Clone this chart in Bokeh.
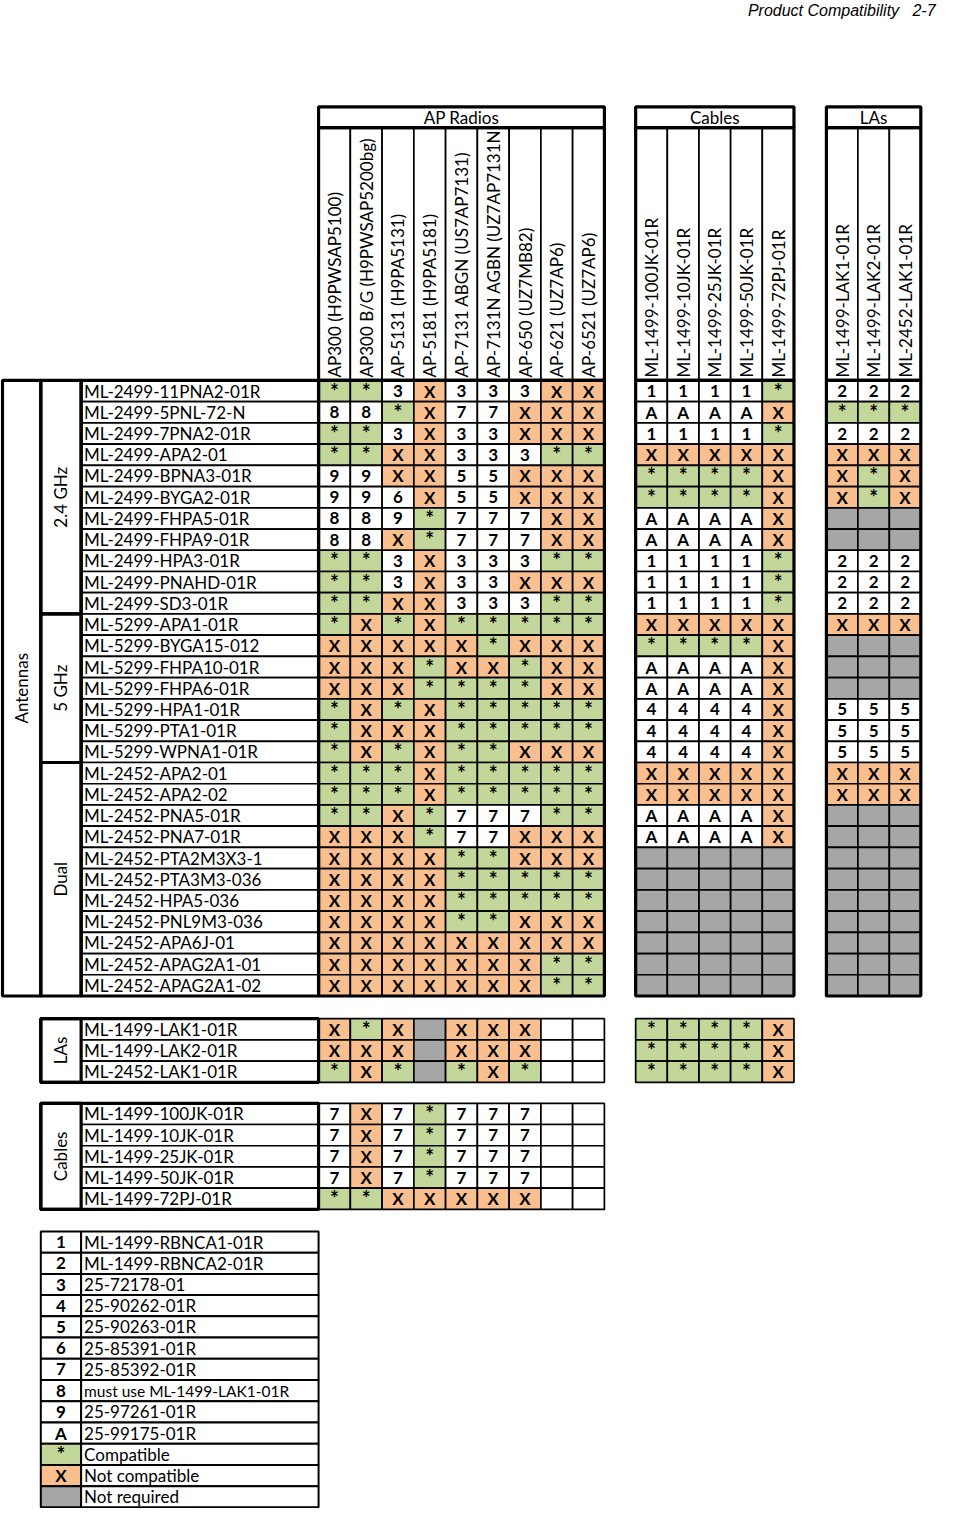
import math
from bokeh.plotting import figure
from bokeh.models import Range1d
from bokeh.core.properties import value
from bokeh.embed import file_html
from bokeh.resources import INLINE

# ---------------- data ----------------
ap_radio_cols = ["AP300 (H9PWSAP5100)", "AP300 B/G (H9PWSAP5200bg)", "AP-5131 (H9PA5131)",
                 "AP-5181 (H9PA5181)", "AP-7131 ABGN (US7AP7131)", "AP-7131N AGBN (UZ7AP7131N",
                 "AP-650 (UZ7MB82)", "AP-621 (UZ7AP6)", "AP-6521 (UZ7AP6)"]
cable_cols = ["ML-1499-100JK-01R", "ML-1499-10JK-01R", "ML-1499-25JK-01R",
              "ML-1499-50JK-01R", "ML-1499-72PJ-01R"]
la_cols = ["ML-1499-LAK1-01R", "ML-1499-LAK2-01R", "ML-2452-LAK1-01R"]

# codes: * compatible, X not compatible, - not required, . empty, others = footnote
band24_names = ["ML-2499-11PNA2-01R", "ML-2499-5PNL-72-N", "ML-2499-7PNA2-01R", "ML-2499-APA2-01",
                "ML-2499-BPNA3-01R", "ML-2499-BYGA2-01R", "ML-2499-FHPA5-01R", "ML-2499-FHPA9-01R",
                "ML-2499-HPA3-01R", "ML-2499-PNAHD-01R", "ML-2499-SD3-01R"]
band24_ap = ["* * 3 X 3 3 3 X X", "8 8 * X 7 7 X X X", "* * 3 X 3 3 X X X", "* * X X 3 3 3 * *",
             "9 9 X X 5 5 X X X", "9 9 6 X 5 5 X X X", "8 8 9 * 7 7 7 X X", "8 8 X * 7 7 7 X X",
             "* * 3 X 3 3 3 * *", "* * 3 X 3 3 X X X", "* * X X 3 3 3 * *"]
band24_cables = ["1 1 1 1 *", "A A A A X", "1 1 1 1 *", "X X X X X", "* * * * X", "* * * * X",
                 "A A A A X", "A A A A X", "1 1 1 1 *", "1 1 1 1 *", "1 1 1 1 *"]
band24_las = ["2 2 2", "* * *", "2 2 2", "X X X", "X * X", "X * X", "- - -", "- - -",
              "2 2 2", "2 2 2", "2 2 2"]

band5_names = ["ML-5299-APA1-01R", "ML-5299-BYGA15-012", "ML-5299-FHPA10-01R", "ML-5299-FHPA6-01R",
               "ML-5299-HPA1-01R", "ML-5299-PTA1-01R", "ML-5299-WPNA1-01R"]
band5_ap = ["* X * X * * * * *", "X X X X X * X X X", "X X X * X X * X X", "X X X * * * * X X",
            "* X * X * * * * *", "* X X X * * * * *", "* X * X * * X X X"]
band5_cables = ["X X X X X", "* * * * X", "A A A A X", "A A A A X", "4 4 4 4 X", "4 4 4 4 X",
                "4 4 4 4 X"]
band5_las = ["X X X", "- - -", "- - -", "- - -", "5 5 5", "5 5 5", "5 5 5"]

dual_names = ["ML-2452-APA2-01", "ML-2452-APA2-02", "ML-2452-PNA5-01R", "ML-2452-PNA7-01R",
              "ML-2452-PTA2M3X3-1", "ML-2452-PTA3M3-036", "ML-2452-HPA5-036", "ML-2452-PNL9M3-036",
              "ML-2452-APA6J-01", "ML-2452-APAG2A1-01", "ML-2452-APAG2A1-02"]
dual_ap = ["* * * X * * * * *", "* * * X * * * * *", "* * X * 7 7 7 * *", "X X X * 7 7 X X X",
           "X X X X * * X X X", "X X X X * * * * *", "X X X X * * * * *", "X X X X * * X X X",
           "X X X X X X X X X", "X X X X X X X * *", "X X X X X X X * *"]
dual_cables = ["X X X X X", "X X X X X", "A A A A X", "A A A A X", "- - - - -", "- - - - -",
               "- - - - -", "- - - - -", "- - - - -", "- - - - -", "- - - - -"]
dual_las = ["X X X", "X X X", "- - -", "- - -", "- - -", "- - -", "- - -", "- - -", "- - -",
            "- - -", "- - -"]

la_names = ["ML-1499-LAK1-01R", "ML-1499-LAK2-01R", "ML-2452-LAK1-01R"]
la_ap = ["X * X - X X X . .", "X X X - X X X . .", "* X * - * X * . ."]
la_cables = ["* * * * X", "* * * * X", "* * * * X"]

cab_names = ["ML-1499-100JK-01R", "ML-1499-10JK-01R", "ML-1499-25JK-01R", "ML-1499-50JK-01R",
             "ML-1499-72PJ-01R"]
cab_ap = ["7 X 7 * 7 7 7 . .", "7 X 7 * 7 7 7 . .", "7 X 7 * 7 7 7 . .", "7 X 7 * 7 7 7 . .",
          "* * X X X X X . ."]

legend_keys = ["1", "2", "3", "4", "5", "6", "7", "8", "9", "A", "*", "X", "-"]
legend_texts = ["ML-1499-RBNCA1-01R", "ML-1499-RBNCA2-01R", "25-72178-01", "25-90262-01R",
                "25-90263-01R", "25-85391-01R", "25-85392-01R", "must use ML-1499-LAK1-01R",
                "25-97261-01R", "25-99175-01R", "Compatible", "Not compatible", "Not required"]

page_title = "Product Compatibility\u00a0\u00a0\u00a02-7"

# ---------------- layout ----------------
WREF, HREF = 954.0, 1524.0
FONT = "Lato"
THIN, THICK = 1.7, 3.2
FILLS = {"*": "#C4D79B", "X": "#FABF8F", "-": "#A6A6A6"}
CELL_SIZE, STAR_SIZE = "17px", "21px"

AP_X0, AP_W = 323.5, 32.3
CB_X0, CB_W = 646.0, 32.2
LA_X0, LA_W = 840.0, 32.0
RH = 21.45
MAIN_Y0 = 384.0
HDR_TOP, HDR_MID = 107.5, 128.5
LBL_X0, GRP_X0, NAME_X0 = 2.0, 41.0, 82.0
SEC_LA_Y0, SEC_CB_Y0, LEG_Y0 = 1029.0, 1114.5, 1244.0


def Y(y):
    return HREF - y


p = figure(width=938, height=1508, x_range=Range1d(0, WREF), y_range=Range1d(0, HREF),
           output_backend="svg", toolbar_location=None, min_border=0)
p.axis.visible = False
p.grid.visible = False
p.outline_line_color = None
p.background_fill_color = "white"
p.border_fill_color = "white"


def cell_texts(xs, ys, ts):
    stars = [(x, y) for x, y, t in zip(xs, ys, ts) if t == "*"]
    other = [(x, y, t) for x, y, t in zip(xs, ys, ts) if t != "*"]
    if other:
        p.text(x=[o[0] for o in other], y=[o[1] for o in other], text=[o[2] for o in other],
               text_font=value(FONT), text_font_style="bold", text_font_size=CELL_SIZE,
               text_align="center", text_baseline="middle", text_color="black")
    if stars:
        p.text(x=[s[0] for s in stars], y=[s[1] + 1.0 for s in stars], text=["*"] * len(stars),
               text_font=value(FONT), text_font_style="bold", text_font_size=STAR_SIZE,
               text_align="center", text_baseline="middle", text_color="black")


def cells(grid, x0, cw, y0, rh):
    L, R, T, B, F = [], [], [], [], []
    tx, ty, tt = [], [], []
    for i, row in enumerate(grid):
        for j, v in enumerate(row.split()):
            l = x0 + j * cw
            t = y0 + i * rh
            L.append(l); R.append(l + cw); T.append(Y(t)); B.append(Y(t + rh))
            F.append(FILLS.get(v, "white"))
            if v not in ("-", "."):
                tx.append(l + cw / 2); ty.append(Y(t + rh / 2)); tt.append(v)
    p.quad(left=L, right=R, top=T, bottom=B, fill_color=F, line_color="black", line_width=THIN)
    cell_texts(tx, ty, tt)


def names(lst, x0, x1, y0, rh, size="17px"):
    n = len(lst)
    p.quad(left=[x0] * n, right=[x1] * n, top=[Y(y0 + i * rh) for i in range(n)],
           bottom=[Y(y0 + (i + 1) * rh) for i in range(n)], fill_color="white",
           line_color="black", line_width=THIN)
    p.text(x=[x0 + 3] * n, y=[Y(y0 + (i + 0.5) * rh) for i in range(n)], text=lst,
           text_font=value(FONT), text_font_size=size, text_align="left",
           text_baseline="middle", text_color="black")


def box(l, t, r, b, w=THICK):
    p.quad(left=[l], right=[r], top=[Y(t)], bottom=[Y(b)], fill_alpha=0, line_color="black",
           line_width=w)


def label(txt, x, y, angle=0.0, size="17px", align="center", style="normal"):
    p.text(x=[x], y=[Y(y)], text=[txt], angle=angle, text_font=value(FONT), text_font_size=size,
           text_align=align, text_baseline="middle", text_color="black", text_font_style=style)


# ---------------- header ----------------
p.text(x=[951], y=[Y(10)], text=[page_title],
       text_font=value("Liberation Sans"), text_font_style="italic", text_font_size="16px",
       text_align="right", text_baseline="middle", text_color="black")

blocks = [(AP_X0, AP_W, ap_radio_cols, "AP Radios"), (CB_X0, CB_W, cable_cols, "Cables"),
          (LA_X0, LA_W, la_cols, "LAs")]
for x0, cw, cols, title in blocks:
    n = len(cols)
    x1 = x0 + n * cw
    p.quad(left=[x0 + j * cw for j in range(n)], right=[x0 + (j + 1) * cw for j in range(n)],
           top=[Y(HDR_MID)] * n, bottom=[Y(MAIN_Y0)] * n, fill_color="white",
           line_color="black", line_width=THIN)
    p.text(x=[x0 + (j + 0.5) * cw for j in range(n)], y=[Y(MAIN_Y0 - 3)] * n, text=cols,
           angle=math.pi / 2, text_font=value(FONT), text_font_size="17px", text_align="left",
           text_baseline="middle", text_color="black")
    label(title, (x0 + x1) / 2, (HDR_TOP + HDR_MID) / 2)

# ---------------- main antenna table ----------------
groups = [("2.4 GHz", band24_names, band24_ap, band24_cables, band24_las),
          ("5 GHz", band5_names, band5_ap, band5_cables, band5_las),
          ("Dual", dual_names, dual_ap, dual_cables, dual_las)]
y = MAIN_Y0
group_spans = []
for gname, nm, ap, cb, la in groups:
    names(nm, NAME_X0, AP_X0, y, RH)
    cells(ap, AP_X0, AP_W, y, RH)
    cells(cb, CB_X0, CB_W, y, RH)
    cells(la, LA_X0, LA_W, y, RH)
    y1 = y + len(nm) * RH
    group_spans.append((gname, y, y1))
    y = y1
MAIN_Y1 = y

for gname, ya, yb in group_spans:
    box(GRP_X0, ya, NAME_X0, yb)
    label(gname, (GRP_X0 + NAME_X0) / 2, (ya + yb) / 2, angle=math.pi / 2)
box(LBL_X0, MAIN_Y0, GRP_X0, MAIN_Y1)
label("Antennas", (LBL_X0 + GRP_X0) / 2, (MAIN_Y0 + MAIN_Y1) / 2, angle=math.pi / 2)
box(NAME_X0, MAIN_Y0, AP_X0, MAIN_Y1)

for x0, cw, cols, title in blocks:
    x1 = x0 + len(cols) * cw
    box(x0, HDR_TOP, x1, HDR_MID)
    box(x0, HDR_MID, x1, MAIN_Y0)
    box(x0, MAIN_Y0, x1, MAIN_Y1)

# ---------------- LAs section ----------------
names(la_names, NAME_X0, AP_X0, SEC_LA_Y0, RH)
cells(la_ap, AP_X0, AP_W, SEC_LA_Y0, RH)
cells(la_cables, CB_X0, CB_W, SEC_LA_Y0, RH)
la_y1 = SEC_LA_Y0 + len(la_names) * RH
box(GRP_X0, SEC_LA_Y0, NAME_X0, la_y1)
box(GRP_X0, SEC_LA_Y0, AP_X0, la_y1)
label("LAs", (GRP_X0 + NAME_X0) / 2, (SEC_LA_Y0 + la_y1) / 2, angle=math.pi / 2)

# ---------------- Cables section ----------------
names(cab_names, NAME_X0, AP_X0, SEC_CB_Y0, RH)
cells(cab_ap, AP_X0, AP_W, SEC_CB_Y0, RH)
cb_y1 = SEC_CB_Y0 + len(cab_names) * RH
box(GRP_X0, SEC_CB_Y0, NAME_X0, cb_y1)
box(GRP_X0, SEC_CB_Y0, AP_X0, cb_y1)
label("Cables", (GRP_X0 + NAME_X0) / 2, (SEC_CB_Y0 + cb_y1) / 2, angle=math.pi / 2)

# ---------------- legend ----------------
n = len(legend_keys)
key_fill = [FILLS.get(k, "white") if k in ("*", "X", "-") else "white" for k in legend_keys]
p.quad(left=[GRP_X0] * n, right=[NAME_X0] * n, top=[Y(LEG_Y0 + i * RH) for i in range(n)],
       bottom=[Y(LEG_Y0 + (i + 1) * RH) for i in range(n)], fill_color=key_fill,
       line_color="black", line_width=2.0)
kx = [(GRP_X0 + NAME_X0) / 2 for k in legend_keys if k != "-"]
ky = [Y(LEG_Y0 + (i + 0.5) * RH) for i, k in enumerate(legend_keys) if k != "-"]
kt = [k for k in legend_keys if k != "-"]
cell_texts(kx, ky, kt)
p.quad(left=[NAME_X0] * n, right=[AP_X0] * n, top=[Y(LEG_Y0 + i * RH) for i in range(n)],
       bottom=[Y(LEG_Y0 + (i + 1) * RH) for i in range(n)], fill_color="white",
       line_color="black", line_width=2.0)
for i, t in enumerate(legend_texts):
    label(t, NAME_X0 + 3, LEG_Y0 + (i + 0.5) * RH, size="15.5px" if len(t) > 20 else "17px",
          align="left")

open("out.html", "w").write(file_html(p, INLINE))
